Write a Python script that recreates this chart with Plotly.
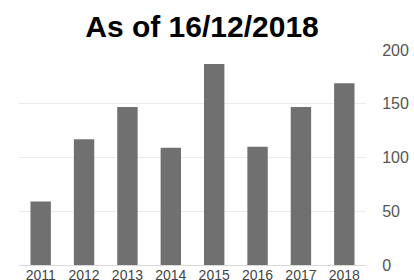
import plotly.graph_objects as go

years = ["2011", "2012", "2013", "2014", "2015", "2016", "2017", "2018"]
values = [59, 117, 147, 109, 187, 110, 147, 169]
y_ticks = [0, 50, 100, 150, 200]

fig = go.Figure(go.Bar(x=years, y=values, marker=dict(color="#707070", line=dict(width=0))))

fig.update_layout(
    width=414, height=280,
    margin=dict(l=19, r=48, t=50, b=15, autoexpand=False),
    paper_bgcolor="white", plot_bgcolor="white",
    bargap=0.53,
    showlegend=False,
    font=dict(family="Liberation Sans, Arial, sans-serif"),
    title=dict(text="<b>As of 16/12/2018</b>", font=dict(size=30, color="black"),
               x=0.488, xanchor="center", y=0.904, yanchor="middle", xref="container", yref="container"),
)
fig.update_xaxes(type="category", tickfont=dict(size=14, color="#444444"), ticks="outside", ticklen=0,
                 ticklabelstandoff=-3, showgrid=False, showline=False, automargin=False)
fig.update_yaxes(range=[0, 200], side="right", tickvals=y_ticks, ticktext=[str(v) for v in y_ticks],
                 tickfont=dict(size=16, color="#555555"), gridcolor="#ebebeb", gridwidth=1,
                 zeroline=True, zerolinecolor="#d9d9d9", zerolinewidth=1,
                 ticks="outside", ticklen=0, ticklabelstandoff=12, automargin=False,
                 showline=False)

fig.write_html(
    "out.html",
    config={"displayModeBar": False},
    post_script="document.body.style.margin='0';document.body.style.overflow='hidden';",
)
